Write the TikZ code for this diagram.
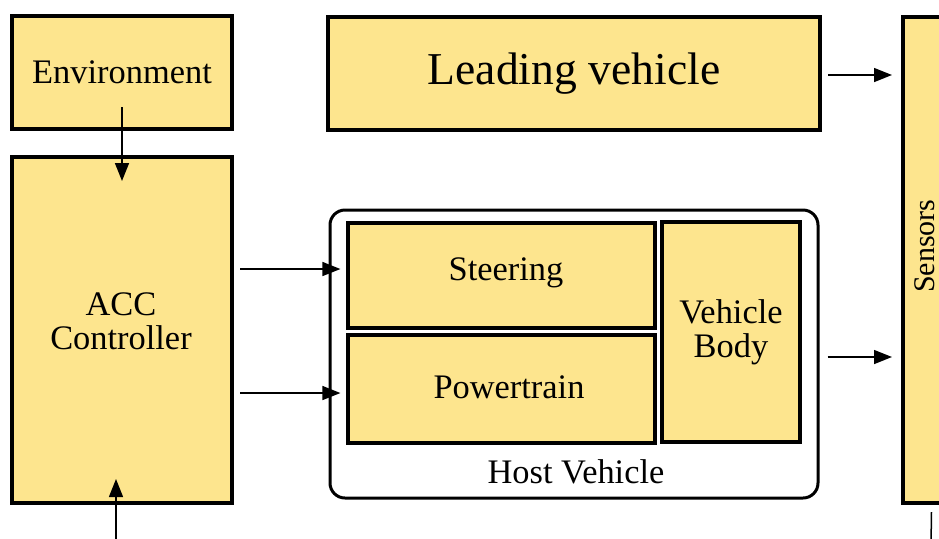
\documentclass[tikz,border=0pt]{standalone}
\usepackage{fontspec}
\setmainfont{Liberation Serif}
\usetikzlibrary{arrows.meta,
                calc,
                positioning
                }
\definecolor{boxfill}{RGB}{253,229,142}

\begin{document}
\begin{tikzpicture}[
x=0.5pt, y=-0.5pt,
    BX/.style = {draw, line width=2pt, fill=boxfill, inner sep=0pt,
                 align=center,
                 font=\fontsize{17.2pt}{16.8pt}\selectfont},
    SB/.style = {BX, line width=1.6pt},
    HV/.style = {draw, line width=1.5pt, rounded corners=7.5pt, inner sep=0pt},
    LB/.style = {inner sep=0pt, align=center,
                 font=\fontsize{17.2pt}{16.8pt}\selectfont},
    AR/.style = {-{Triangle[length=9pt, width=7pt]}, line width=0.75pt},
                        ]
\clip (0,0) rectangle (939,538);
% left column
\node[BX, minimum width=110pt, minimum height=56.5pt]  (env)  at (122,72.5) {Environment};
\node[BX, minimum width=110pt, minimum height=173pt]   (acc)  at (122,330)  {};
\node[LB]                                              (acclabel) at (121,321) {ACC\\ Controller};
% leading vehicle and sensors
\node[BX, minimum width=246pt, minimum height=56.5pt,
      font=\fontsize{22.8pt}{26pt}\selectfont]         (lead) at (574,73.5) {Leading vehicle};
\node[BX, minimum width=28.5pt, minimum height=243pt]  (sens) at (931.5,260) {};
\node[LB, rotate=90, font=\fontsize{15pt}{18pt}\selectfont] (senslabel) at (925,246) {Sensors};
% host vehicle
\node[HV, minimum width=244pt, minimum height=144pt]   (host) at (574,354) {};
\node[SB, minimum width=153.5pt, minimum height=52.5pt] (steer) at (501.5,275.5) {};
\node[SB, minimum width=153.5pt, minimum height=54pt]   (power) at (501.5,389)   {};
\node[SB, minimum width=69pt, minimum height=110pt]     (body)  at (731,332)     {Vehicle\\ Body};
\node[LB] (steerlabel) at (506,273) {Steering};
\node[LB] (powerlabel) at (509,387) {Powertrain};
\node[LB] (hostlabel)  at (576,472) {Host Vehicle};
% connectors
\coordinate (ext) at (116,545);
\coordinate (out) at (931,545);
\draw[AR]   ($(env.south)+(0,-24)$) -- ($(acc.north)+(0,26)$);
\draw[AR]   (ext) -- ($(acc.south)+(-6,-26)$);
\draw[AR]   ($(acc.east|-steer.west)+(6,-6.5)$) -- ($(steer.west)+(-6,-6.5)$);
\draw[AR]   ($(acc.east|-power.west)+(6,4)$)    -- ($(power.west)+(-6,4)$);
\draw[AR]   ($(lead.east)+(6,1.5)$) -- ($(sens.west|-lead.east)+(-9,1.5)$);
\draw[AR]   ($(host.east|-body.east)+(8,25)$) -- ($(sens.west|-body.east)+(-9,25)$);
\draw[line width=0.75pt] ($(sens.south)+(0,7)$) -- (out);
\end{tikzpicture}
\end{document}
